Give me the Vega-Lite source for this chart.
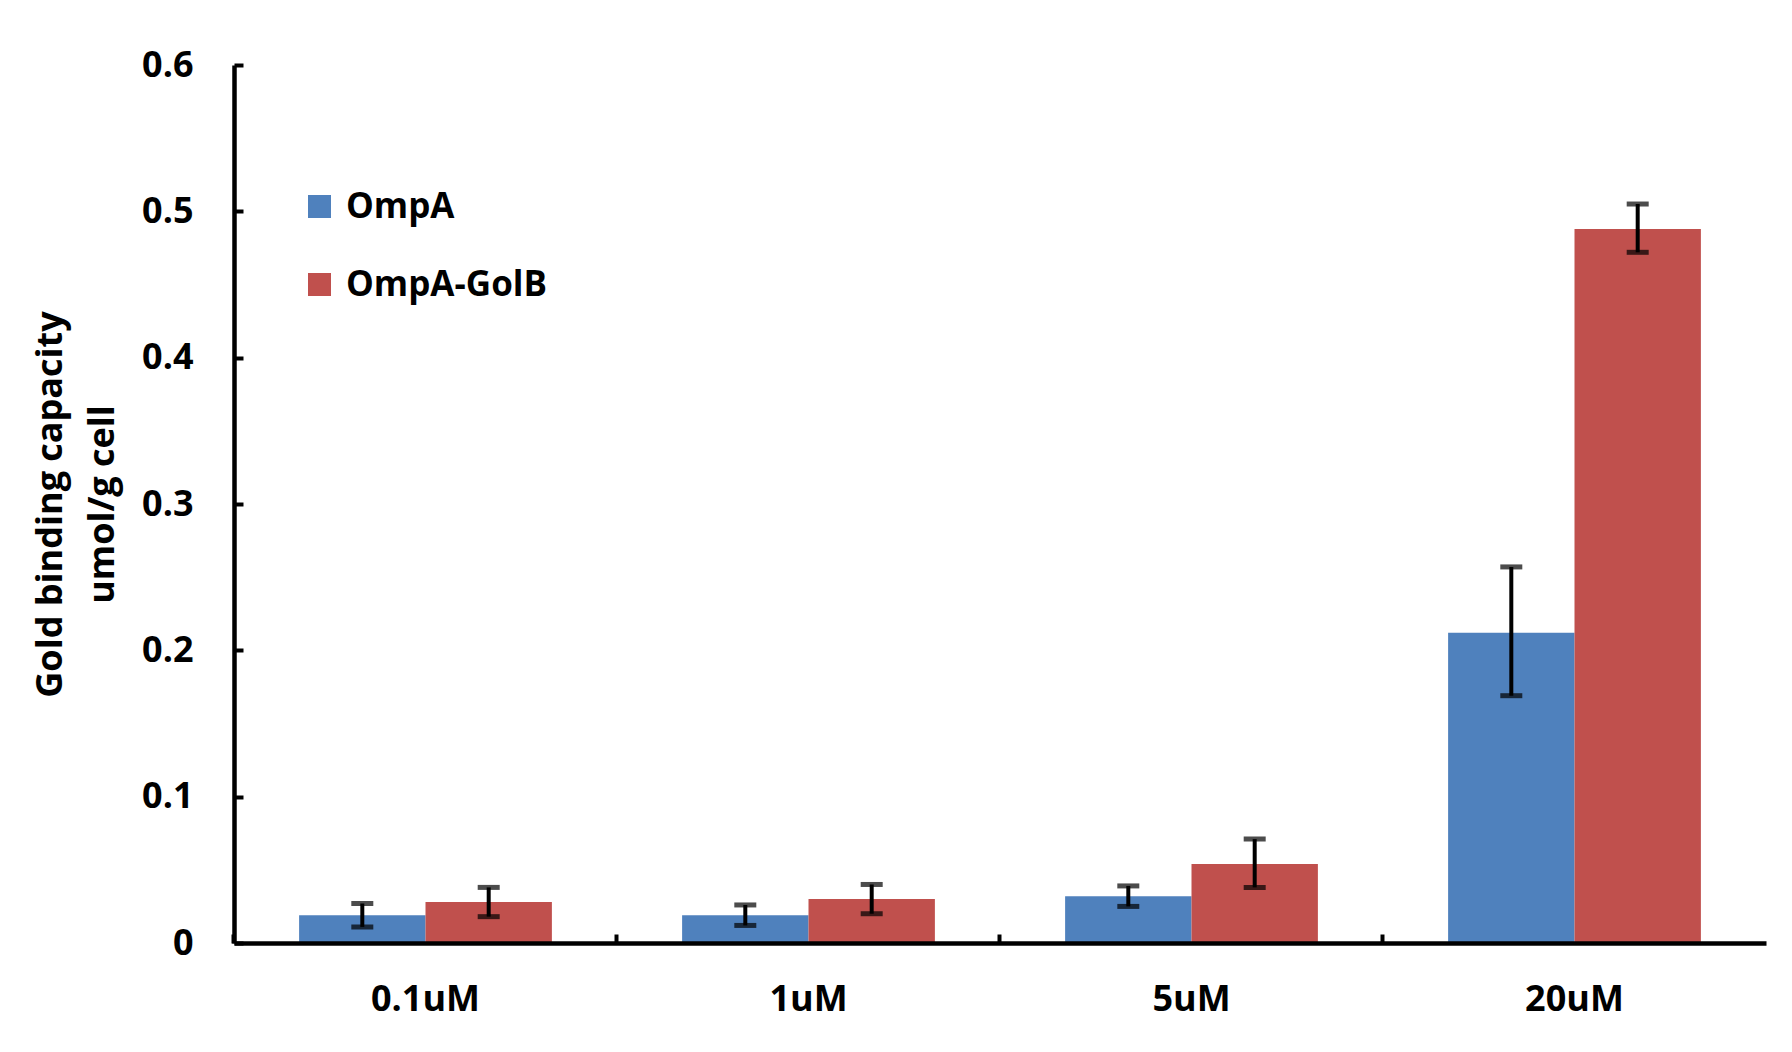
{
  "$schema": "https://vega.github.io/schema/vega-lite/v6.json",
  "width": 1532,
  "height": 878,
  "autosize": {"type": "none"},
  "padding": {"left": 234, "top": 65, "right": 26, "bottom": 109},
  "background": "white",
  "config": {"view": {"stroke": null}, "font": "Open Sans"},
  "data": {
    "values": [
      {"conc": "0.1uM", "group": "OmpA", "value": 0.019, "lo": 0.011, "hi": 0.027},
      {"conc": "0.1uM", "group": "OmpA-GolB", "value": 0.028, "lo": 0.018, "hi": 0.038},
      {"conc": "1uM", "group": "OmpA", "value": 0.019, "lo": 0.012, "hi": 0.026},
      {"conc": "1uM", "group": "OmpA-GolB", "value": 0.030, "lo": 0.020, "hi": 0.040},
      {"conc": "5uM", "group": "OmpA", "value": 0.032, "lo": 0.025, "hi": 0.039},
      {"conc": "5uM", "group": "OmpA-GolB", "value": 0.054, "lo": 0.038, "hi": 0.071},
      {"conc": "20uM", "group": "OmpA", "value": 0.212, "lo": 0.169, "hi": 0.257},
      {"conc": "20uM", "group": "OmpA-GolB", "value": 0.488, "lo": 0.472, "hi": 0.505}
    ]
  },
  "encoding": {
    "x": {
      "field": "conc",
      "type": "nominal",
      "sort": ["0.1uM", "1uM", "5uM", "20uM"],
      "scale": {"paddingInner": 0.34, "paddingOuter": 0.17},
      "axis": {
        "title": null,
        "labelAngle": 0,
        "labelFont": "Open Sans",
        "labelFontSize": 36,
        "labelFontWeight": "bold",
        "labelColor": "black",
        "labelPadding": 48,
        "domainColor": "black",
        "domainWidth": 4.5,
        "tickColor": "black",
        "tickWidth": 4,
        "tickSize": -9,
        "bandPosition": -0.2576,
        "zindex": 1
      }
    },
    "xOffset": {
      "field": "group",
      "sort": ["OmpA", "OmpA-GolB"],
      "scale": {"paddingInner": 0, "paddingOuter": 0}
    }
  },
  "layer": [
    {
      "mark": {"type": "bar"},
      "encoding": {
        "y": {
          "field": "value",
          "type": "quantitative",
          "scale": {"domain": [0, 0.6], "nice": false},
          "axis": {
            "title": ["Gold binding capacity", "umol/g cell"],
            "titleFont": "Open Sans",
            "titleFontSize": 36,
            "titleFontWeight": "bold",
            "titleColor": "black",
            "titleLineHeight": 52,
            "titlePadding": 20,
            "values": [0, 0.1, 0.2, 0.3, 0.4, 0.5, 0.6],
            "format": "~g",
            "grid": false,
            "labelFont": "Open Sans",
            "labelFontSize": 36,
            "labelFontWeight": "bold",
            "labelColor": "black",
            "labelPadding": 50,
            "domainColor": "black",
            "domainWidth": 4.5,
            "tickColor": "black",
            "tickWidth": 4,
            "tickSize": -9,
            "zindex": 1
          }
        },
        "color": {
          "field": "group",
          "type": "nominal",
          "scale": {"domain": ["OmpA", "OmpA-GolB"], "range": ["#4F81BD", "#C0504D"]},
          "legend": {
            "title": null,
            "orient": "none",
            "legendX": 68,
            "legendY": 124,
            "symbolType": "square",
            "symbolSize": 529,
            "symbolStrokeWidth": 0,
            "labelFont": "Open Sans",
            "labelFontSize": 35,
            "labelFontWeight": "bold",
            "labelColor": "black",
            "labelOffset": 9,
            "labelLimit": 0,
            "rowPadding": 42
          }
        }
      }
    },
    {
      "mark": {"type": "rule", "strokeWidth": 4, "color": "black"},
      "encoding": {
        "y": {"field": "lo", "type": "quantitative"},
        "y2": {"field": "hi"}
      }
    },
    {
      "mark": {"type": "tick", "thickness": 5, "size": 22, "color": "black"},
      "encoding": {"y": {"field": "lo", "type": "quantitative"}}
    },
    {
      "mark": {"type": "tick", "thickness": 5, "size": 22, "color": "black"},
      "encoding": {"y": {"field": "hi", "type": "quantitative"}}
    }
  ]
}
